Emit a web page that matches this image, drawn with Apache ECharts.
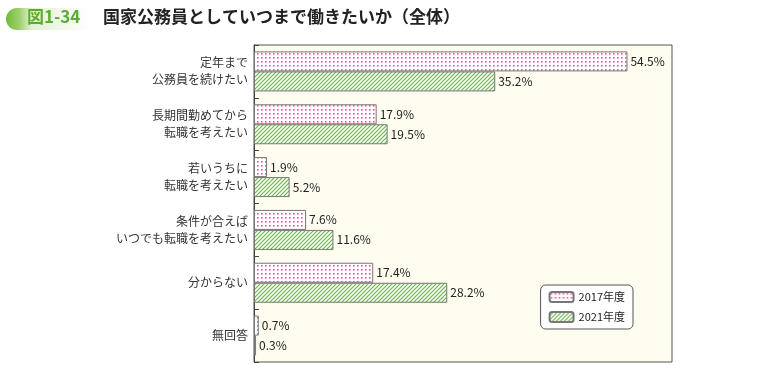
<!DOCTYPE html>
<html>
<head>
<meta charset="utf-8">
<script src="https://cdn.jsdelivr.net/npm/echarts@6/dist/echarts.min.js"></script>
<style>
  html, body { margin: 0; padding: 0; background: #fff; }
  #chart { width: 760px; height: 375px; }
</style>
</head>
<body>
<div id="chart"></div>
<script>
// カテゴリ
var categories = [
  '定年まで\n公務員を続けたい',
  '長期間勤めてから\n転職を考えたい',
  '若いうちに\n転職を考えたい',
  '条件が合えば\nいつでも転職を考えたい',
  '分からない',
  '無回答'
]
var seriesNames = ['2017年度', '2021年度']
var values2017 = [54.5, 17.9, 1.9, 7.6, 17.4, 0.7]
var values2021 = [35.2, 19.5, 5.2, 11.6, 28.2, 0.3]

var fontFamily = '"Noto Sans CJK JP", "Noto Sans", sans-serif'

// ドット柄
function makeDots () {
  var c = document.createElement('canvas')
  c.width = 4
  c.height = 4
  var ctx = c.getContext('2d')
  ctx.fillStyle = '#ffffff'
  ctx.fillRect(0, 0, 4, 4)
  ctx.fillStyle = '#e8559a'
  ctx.fillRect(1, 1, 1.6, 1.6)
  return c
}
// 斜線柄
function makeHatch () {
  var s = 4
  var c = document.createElement('canvas')
  c.width = s
  c.height = s
  var ctx = c.getContext('2d')
  ctx.fillStyle = '#ffffff'
  ctx.fillRect(0, 0, s, s)
  ctx.strokeStyle = '#6cb548'
  ctx.lineWidth = 1.2
  ctx.beginPath()
  ctx.moveTo(0, s); ctx.lineTo(s, 0)
  ctx.moveTo(-1, 1); ctx.lineTo(1, -1)
  ctx.moveTo(s - 1, s + 1); ctx.lineTo(s + 1, s - 1)
  ctx.stroke()
  return c
}

var pinkFill = { image: makeDots(), repeat: 'repeat' }
var greenFill = { image: makeHatch(), repeat: 'repeat' }

var chart = echarts.init(document.getElementById('chart'))

var labelOpt = {
  show: true,
  position: 'right',
  distance: 3,
  color: '#222',
  fontSize: 12,
  fontFamily: fontFamily,
  formatter: '{c}%'
}

var options = {
  animation: false,
  textStyle: { fontFamily: fontFamily },
  graphic: [
    // 図番号の帯
    {
      type: 'rect',
      shape: { x: 6, y: 8, width: 84, height: 22, r: [11, 0, 0, 11] },
      style: {
        fill: new echarts.graphic.LinearGradient(0, 0, 1, 0, [
          { offset: 0, color: '#6fbb3a' },
          { offset: 0.16, color: '#9fd06e' },
          { offset: 0.3, color: '#e2f0d2' },
          { offset: 1, color: '#ffffff' }
        ])
      }
    },
    {
      type: 'text',
      left: 27,
      top: 8,
      style: {
        text: '図1-34',
        fill: '#5aad2e',
        font: 'bold 17px ' + fontFamily
      }
    },
    {
      type: 'text',
      left: 103,
      top: 8,
      style: {
        text: '国家公務員としていつまで働きたいか（全体）',
        fill: '#222',
        font: 'bold 17px ' + fontFamily
      }
    }
  ],
  legend: {
    right: 127,
    top: 285,
    orient: 'vertical',
    itemWidth: 24,
    itemHeight: 10,
    itemGap: 8,
    padding: [6, 8, 6, 8],
    borderColor: '#555',
    borderWidth: 1,
    borderRadius: 5,
    backgroundColor: '#fff',
    textStyle: { fontSize: 11, color: '#222', fontFamily: fontFamily },
    data: seriesNames
  },
  grid: {
    left: 254,
    right: 88,
    top: 45,
    bottom: 13,
    show: true,
    backgroundColor: '#fffdf0',
    borderColor: '#555',
    borderWidth: 1
  },
  xAxis: {
    type: 'value',
    min: 0,
    max: 61,
    show: false
  },
  yAxis: {
    type: 'category',
    inverse: true,
    data: categories,
    axisLine: { show: true, lineStyle: { color: '#444', width: 1 } },
    axisTick: { show: true, inside: true, length: 5, lineStyle: { color: '#444' } },
    axisLabel: {
      color: '#333',
      fontSize: 12,
      lineHeight: 17,
      margin: 6,
      fontFamily: fontFamily
    }
  },
  series: [
    {
      name: seriesNames[0],
      type: 'bar',
      data: values2017,
      barWidth: 20,
      barGap: '0%',
      itemStyle: { color: pinkFill, borderColor: '#777', borderWidth: 1 },
      label: labelOpt
    },
    {
      name: seriesNames[1],
      type: 'bar',
      data: values2021,
      barWidth: 20,
      itemStyle: { color: greenFill, borderColor: '#777', borderWidth: 1 },
      label: labelOpt
    }
  ]
}

chart.setOption(options, true)
</script>
</body>
</html>
